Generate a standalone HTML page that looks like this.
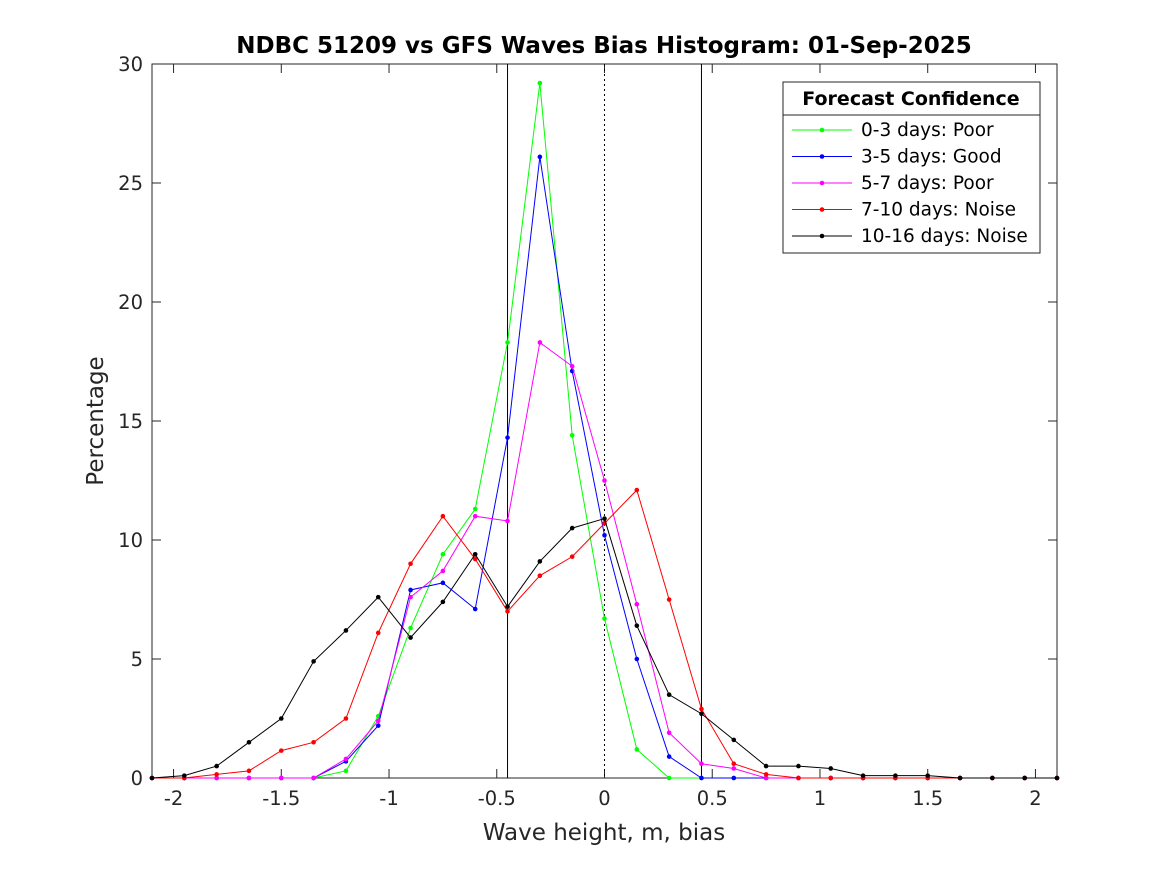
<!DOCTYPE html>
<html><head><meta charset="utf-8"><style>
body{margin:0;background:#fff;}
svg{font-family:"DejaVu Sans","Liberation Sans",sans-serif;}
</style></head><body>
<svg id="chart" width="1167" height="875" xmlns="http://www.w3.org/2000/svg">
<rect width="1167" height="875" fill="#fff"/>
<g id="plot"></g>
</svg>
<script>
const xVals=[-2.1,-1.95,-1.8,-1.65,-1.5,-1.35,-1.2,-1.05,-0.9,-0.75,-0.6,-0.45,-0.3,-0.15,0,0.15,0.3,0.45,0.6,0.75,0.9,1.05,1.2,1.35,1.5,1.65,1.8,1.95,2.1];
const green=[0,0,0,0,0,0,0.3,2.6,6.3,9.4,11.3,18.3,29.2,14.4,6.7,1.2,0,0,0,0,0,0,0,0,0,0,0,0,0];
const blue=[0,0,0,0,0,0,0.7,2.2,7.9,8.2,7.1,14.3,26.1,17.1,10.2,5.0,0.9,0,0,0,0,0,0,0,0,0,0,0,0];
const magenta=[0,0,0,0,0,0,0.8,2.4,7.6,8.7,11.0,10.8,18.3,17.3,12.5,7.3,1.9,0.6,0.4,0,0,0,0,0,0,0,0,0,0];
const red=[0,0,0.15,0.3,1.15,1.5,2.5,6.1,9.0,11.0,9.2,7.0,8.5,9.3,10.7,12.1,7.5,2.9,0.6,0.15,0,0,0,0,0,0,0,0,0];
const black=[0,0.1,0.5,1.5,2.5,4.9,6.2,7.6,5.9,7.4,9.4,7.2,9.1,10.5,10.9,6.4,3.5,2.7,1.6,0.5,0.5,0.4,0.1,0.1,0.1,0,0,0,0];
const xTicks=[-2,-1.5,-1,-0.5,0,0.5,1,1.5,2];
const yTicks=[0,5,10,15,20,25,30];
const seriesNames=["0-3 days: Poor","3-5 days: Good","5-7 days: Poor","7-10 days: Noise","10-16 days: Noise"];
const seriesColors=["#00ff00","#0000ff","#ff00ff","#ff0000","#000000"];
const vlines=[-0.45,0,0.45];

const L=152,R=1057,T=64,B=778;
const X=v=>L+(v+2.1)/4.2*(R-L);
const Y=v=>B-v/30*(B-T);
const NS="http://www.w3.org/2000/svg";
const g=document.getElementById('plot');
function mk(t,a,p){const e=document.createElementNS(NS,t);for(const k in a)e.setAttribute(k,a[k]);(p||g).appendChild(e);return e;}

let e=mk('rect',{x:L,y:T,width:R-L,height:B-T,fill:'#fff',stroke:'#262626','stroke-width':1});



xTicks.forEach(t=>{
 mk('line',{x1:X(t),x2:X(t),y1:B,y2:B-9,stroke:'#262626'});
 mk('line',{x1:X(t),x2:X(t),y1:T,y2:T+9,stroke:'#262626'});
 const tx=mk('text',{x:X(t),y:B+27,'text-anchor':'middle','font-size':19.5,fill:'#262626'});
 tx.textContent=String(t);
 
 
});
yTicks.forEach(t=>{
 mk('line',{x1:L,x2:L+9,y1:Y(t),y2:Y(t),stroke:'#262626'});
 mk('line',{x1:R,x2:R-9,y1:Y(t),y2:Y(t),stroke:'#262626'});
 const tx=mk('text',{x:L-9,y:Y(t)+7,'text-anchor':'end','font-size':19.5,fill:'#262626'});
 tx.textContent=String(t);
 
 
});
vlines.forEach(v=>{
 const l=mk('line',{x1:X(v),x2:X(v),y1:T,y2:B,stroke:'#000','stroke-width':1});
 if(v===0)l.setAttribute('stroke-dasharray','2,3');
 
 
});
[green,blue,magenta,red,black].forEach((s,i)=>{
 const pl=mk('polyline',{points:s.map((v,j)=>X(xVals[j])+','+Y(v)).join(' '),fill:'none',stroke:seriesColors[i],'stroke-width':1});
 
 
 s.forEach((v,j)=>{
  const c=mk('circle',{cx:X(xVals[j]),cy:Y(v),r:2.3,fill:seriesColors[i]});
  
  
 });
});
let t=mk('text',{x:604,y:53,'text-anchor':'middle','font-size':23,'font-weight':'bold',fill:'#000'});
t.textContent='NDBC 51209 vs GFS Waves Bias Histogram: 01-Sep-2025';


t=mk('text',{x:604,y:840,'text-anchor':'middle','font-size':23,fill:'#262626'});
t.textContent='Wave height, m, bias';


t=mk('text',{x:0,y:0,'text-anchor':'middle','font-size':23,fill:'#262626',transform:'translate(103,421) rotate(-90)'});
t.textContent='Percentage';



const lg=mk('g',{});


mk('rect',{x:783,y:82,width:257,height:171,fill:'#fff',stroke:'#262626'},lg);
mk('line',{x1:783,x2:1040,y1:115,y2:115,stroke:'#262626'},lg);
t=mk('text',{x:911,y:105,'text-anchor':'middle','font-size':19,'font-weight':'bold',fill:'#000'},lg);
t.textContent='Forecast Confidence';


seriesNames.forEach((n,i)=>{
 const y=130+i*26.5;
 const en=mk('g',{},lg);
 
 
 mk('line',{x1:792,x2:852,y1:y,y2:y,stroke:seriesColors[i]},en);
 mk('circle',{cx:822,cy:y,r:2.3,fill:seriesColors[i]},en);
 const tx=mk('text',{x:861,y:y+6,'font-size':18.5,fill:'#000'},en);
 tx.textContent=n;
});
</script>
</body></html>
